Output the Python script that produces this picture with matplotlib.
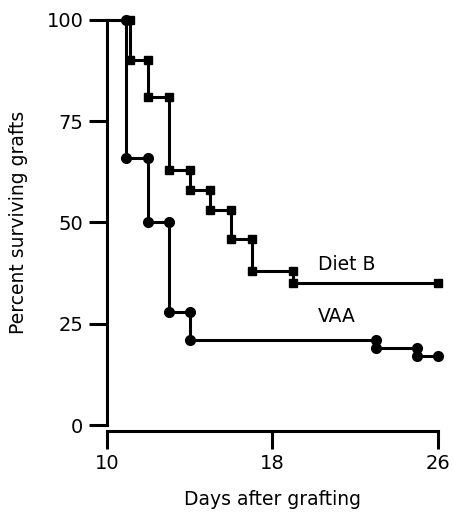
import matplotlib.pyplot as plt

# dias en que cae la curva y porcentaje despues de cada caida
dietb_dias = [11.1, 12, 13, 14, 15, 16, 17, 19]
dietb_pct = [100, 90, 81, 63, 58, 53, 46, 38, 35]
vaa_dias = [10.9, 12, 13, 14, 23, 25]
vaa_pct = [100, 66, 50, 28, 21, 19, 17]
dia_ini = 10
dia_fin = 26

fig = plt.figure(figsize=(4.53, 5.13), dpi=100)
ax = fig.add_axes([0.236, 0.1715, 0.731, 0.79])


def curva(dias, pct, marca, ms):
    xs = [dia_ini]
    ys = [pct[0]]
    mx = []
    my = []
    for i, d in enumerate(dias):
        xs += [d, d]
        ys += [pct[i], pct[i + 1]]
        mx += [d, d]
        my += [pct[i], pct[i + 1]]
    xs.append(dia_fin)
    ys.append(pct[-1])
    mx.append(dia_fin)
    my.append(pct[-1])
    ax.plot(xs, ys, color='black', lw=2.2, clip_on=False, solid_joinstyle='miter')
    ax.plot(mx, my, ls='none', marker=marca, ms=ms, color='black', clip_on=False)


curva(dietb_dias, dietb_pct, 's', 6)
curva(vaa_dias, vaa_pct, 'o', 7)

ax.text(20.2, 37.2, 'Diet B', fontsize=13.5, va='bottom')
ax.text(20.2, 24.4, 'VAA', fontsize=13.5, va='bottom')

ax.set_xlim(10, 26)
ax.set_ylim(0, 100)
ax.set_xticks([10, 18, 26])
ax.set_yticks([0, 25, 50, 75, 100])
ax.spines['top'].set_visible(False)
ax.spines['right'].set_visible(False)
ax.spines['bottom'].set_position(('outward', 4))
for s in ['left', 'bottom']:
    ax.spines[s].set_linewidth(2.2)
ax.tick_params(width=2.2, length=13, labelsize=14, pad=4)
ax.set_xlabel('Days after grafting', fontsize=13.5, labelpad=12)
ax.set_ylabel('Percent surviving grafts', fontsize=13.5, labelpad=13)

plt.savefig('out.png')
